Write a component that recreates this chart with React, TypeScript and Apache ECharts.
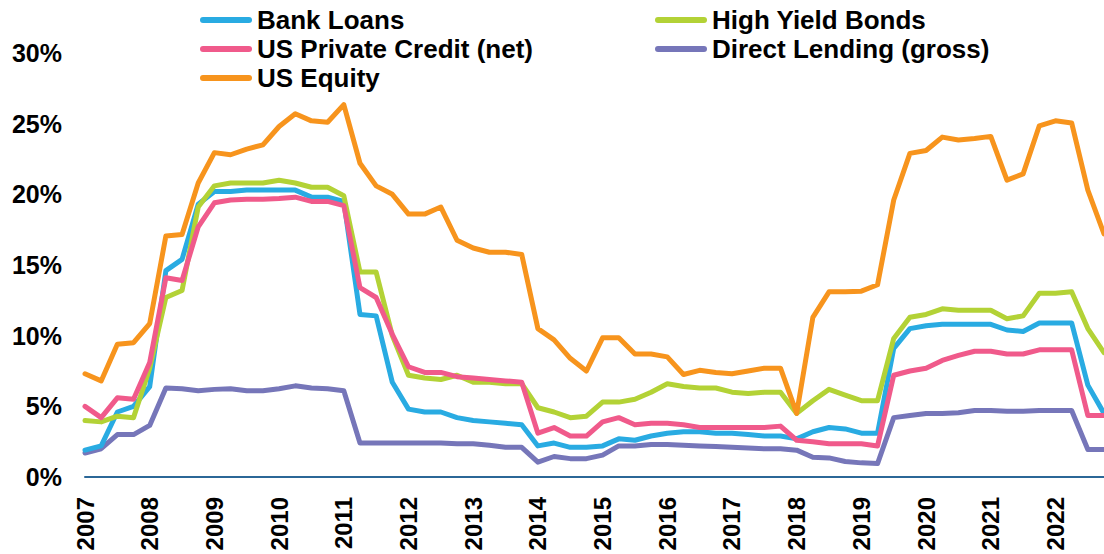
import React, { useEffect, useRef } from "react";
import * as echarts from "echarts";

const years = ["2007", "2008", "2009", "2010", "2011", "2012", "2013", "2014", "2015", "2016", "2017", "2018", "2019", "2020", "2021", "2022"];
const quarters = ["Q1", "Q2", "Q3", "Q4"];
const categories = years.flatMap((y) => quarters.map((q) => `${y} ${q}`));

const bankLoans = [
  1.9, 2.2, 4.6, 5.0, 6.4, 14.6, 15.4, 19.3, 20.2, 20.2,
  20.3, 20.3, 20.3, 20.3, 19.8, 19.8, 19.5, 11.5, 11.4, 6.7,
  4.8, 4.6, 4.6, 4.2, 4.0, 3.9, 3.8, 3.7, 2.2, 2.4,
  2.1, 2.1, 2.2, 2.7, 2.6, 2.9, 3.1, 3.2, 3.2, 3.1,
  3.1, 3.0, 2.9, 2.9, 2.7, 3.2, 3.5, 3.4, 3.1, 3.1,
  9.1, 10.5, 10.7, 10.8, 10.8, 10.8, 10.8, 10.4, 10.3, 10.9,
  10.9, 10.9, 6.5, 4.5,
];
const highYield = [
  4.0, 3.9, 4.3, 4.2, 7.7, 12.7, 13.2, 19.1, 20.6, 20.8,
  20.8, 20.8, 21.0, 20.8, 20.5, 20.5, 19.9, 14.5, 14.5, 10.0,
  7.2, 7.0, 6.9, 7.2, 6.7, 6.7, 6.6, 6.6, 4.9, 4.6,
  4.2, 4.3, 5.3, 5.3, 5.5, 6.0, 6.6, 6.4, 6.3, 6.3,
  6.0, 5.9, 6.0, 6.0, 4.5, 5.4, 6.2, 5.8, 5.4, 5.4,
  9.8, 11.3, 11.5, 11.9, 11.8, 11.8, 11.8, 11.2, 11.4, 13.0,
  13.0, 13.1, 10.5, 8.8,
];
const privateCredit = [
  5.0, 4.2, 5.6, 5.5, 8.1, 14.1, 13.9, 17.7, 19.4, 19.6,
  19.65, 19.65, 19.7, 19.8, 19.5, 19.5, 19.2, 13.4, 12.7, 10.1,
  7.8, 7.4, 7.4, 7.1, 7.0, 6.9, 6.8, 6.7, 3.1, 3.5,
  2.9, 2.9, 3.9, 4.2, 3.7, 3.8, 3.8, 3.7, 3.5, 3.5,
  3.5, 3.5, 3.5, 3.6, 2.6, 2.5, 2.35, 2.35, 2.35, 2.2,
  7.2, 7.5, 7.7, 8.25, 8.6, 8.9, 8.9, 8.7, 8.7, 9.0,
  9.0, 9.0, 4.35, 4.35,
];
const directLending = [
  1.7, 2.0, 3.0, 3.0, 3.65, 6.3, 6.25, 6.1, 6.2, 6.25,
  6.1, 6.1, 6.25, 6.45, 6.3, 6.25, 6.1, 2.4, 2.4, 2.4,
  2.4, 2.4, 2.4, 2.35, 2.35, 2.25, 2.1, 2.1, 1.05, 1.45,
  1.3, 1.3, 1.55, 2.2, 2.2, 2.3, 2.3, 2.25, 2.2, 2.15,
  2.1, 2.05, 2.0, 2.0, 1.9, 1.4, 1.35, 1.1, 1.0, 0.95,
  4.2, 4.35, 4.5, 4.5, 4.55, 4.7, 4.7, 4.65, 4.65, 4.7,
  4.7, 4.7, 1.95, 1.95,
];
const usEquity = [
  7.3, 6.8, 9.4, 9.5, 10.85, 17.05, 17.15, 20.8, 22.95, 22.8,
  23.2, 23.5, 24.8, 25.7, 25.2, 25.1, 26.35, 22.2, 20.6, 20.0,
  18.6, 18.6, 19.1, 16.75, 16.2, 15.9, 15.9, 15.75, 10.5, 9.7,
  8.4, 7.5, 9.85, 9.85, 8.7, 8.7, 8.5, 7.25, 7.55, 7.4,
  7.3, 7.5, 7.7, 7.7, 4.5, 11.3, 13.1, 13.1, 13.15, 13.6,
  19.6, 22.9, 23.1, 24.05, 23.85, 23.95, 24.1, 21.0, 21.45, 24.85,
  25.2, 25.05, 20.3, 17.2,
];

const seriesDefs = [
  { name: "Direct Lending (gross)", data: directLending, color: "#7676B9" },
  { name: "Bank Loans", data: bankLoans, color: "#29ABE2" },
  { name: "High Yield Bonds", data: highYield, color: "#B3D236" },
  { name: "US Private Credit (net)", data: privateCredit, color: "#F05A8B" },
  { name: "US Equity", data: usEquity, color: "#F7941D" },
];

const FONT = "'Liberation Sans', Arial, sans-serif";
const pill = "path://M3,0 L49,0 A3,3 0 0 1 49,6 L3,6 A3,3 0 0 1 3,0 Z";

export default function App() {
  const ref = useRef<HTMLDivElement>(null);
  useEffect(() => {
    if (!ref.current) return;
    const chart = echarts.init(ref.current, null, { renderer: "svg" });
    const legendCommon = {
      orient: "vertical",
      icon: pill,
      itemWidth: 52,
      itemHeight: 6,
      itemGap: 3,
      itemStyle: { borderWidth: 0 },
      textStyle: { fontFamily: FONT, fontSize: 26, fontWeight: "bold", color: "#000", lineHeight: 26 },
    };
    chart.setOption({
      animation: false,
      backgroundColor: "#fff",
      legend: [
        { ...legendCommon, left: 195, top: 2, data: ["Bank Loans", "US Private Credit (net)", "US Equity"] },
        { ...legendCommon, left: 650, top: 2, data: ["High Yield Bonds", "Direct Lending (gross)"] },
      ],
      grid: { left: 85, right: -3, top: 53, bottom: 77, containLabel: false },
      xAxis: {
        type: "category",
        data: categories,
        boundaryGap: false,
        axisLine: { lineStyle: { color: "#2B6797", width: 2 } },
        axisTick: { show: false },
        splitLine: { show: false },
        axisLabel: {
          interval: 3,
          rotate: 90,
          margin: 20,
          formatter: (v: string) => v.slice(0, 4),
          fontFamily: FONT,
          fontSize: 24,
          fontWeight: "bold",
          color: "#000",
        },
      },
      yAxis: {
        type: "value",
        min: 0,
        max: 30,
        interval: 5,
        axisLine: { show: false },
        axisTick: { show: false },
        splitLine: { show: false },
        axisLabel: {
          formatter: "{value}%",
          margin: 23,
          fontFamily: FONT,
          fontSize: 25,
          fontWeight: "bold",
          color: "#000",
        },
      },
      series: seriesDefs.map((s) => ({
        name: s.name,
        type: "line",
        data: s.data,
        symbol: "none",
        color: s.color,
        itemStyle: { color: s.color },
        lineStyle: { color: s.color, width: 5, cap: "round", join: "round" },
      })),
    });
    return () => chart.dispose();
  }, []);
  return (
    <div
      ref={ref}
      style={{ position: "fixed", left: 0, top: 0, width: 1104, height: 554, background: "#fff" }}
    />
  );
}
